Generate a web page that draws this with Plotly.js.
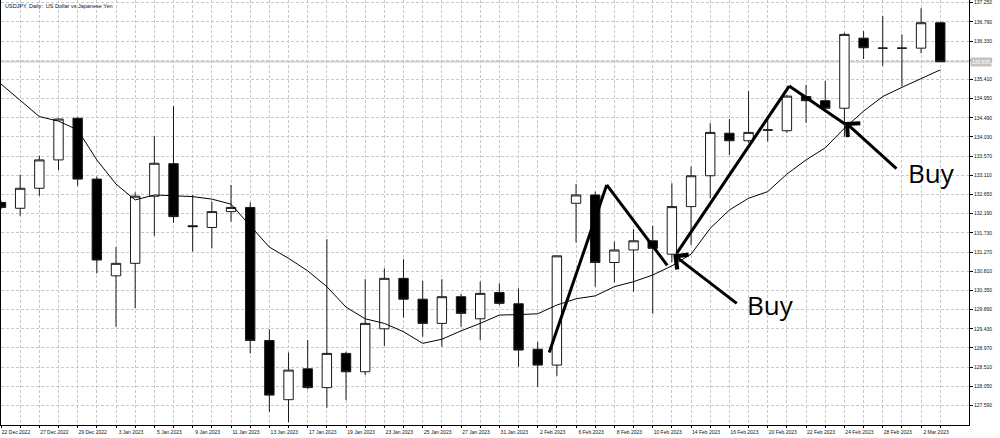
<!DOCTYPE html>
<html>
<head>
<meta charset="utf-8">
<script src="https://cdn.plot.ly/plotly-3.0.1.min.js"></script>
<style>html,body{margin:0;padding:0;background:#fff;}#chart{width:1000px;height:438px;}</style>
</head>
<body>
<div id="chart"></div>
<script>
// ---- data ----
const dates = ['22 Dec 2022','23 Dec 2022','27 Dec 2022','28 Dec 2022','29 Dec 2022','30 Dec 2022',
  '3 Jan 2023','4 Jan 2023','5 Jan 2023','6 Jan 2023','9 Jan 2023','10 Jan 2023','11 Jan 2023','12 Jan 2023','13 Jan 2023',
  '16 Jan 2023','17 Jan 2023','18 Jan 2023','19 Jan 2023','20 Jan 2023','23 Jan 2023','24 Jan 2023','25 Jan 2023','26 Jan 2023','27 Jan 2023',
  '30 Jan 2023','31 Jan 2023','1 Feb 2023','2 Feb 2023','3 Feb 2023','6 Feb 2023','7 Feb 2023','8 Feb 2023','9 Feb 2023','10 Feb 2023',
  '13 Feb 2023','14 Feb 2023','15 Feb 2023','16 Feb 2023','17 Feb 2023','20 Feb 2023','21 Feb 2023','22 Feb 2023','23 Feb 2023','24 Feb 2023',
  '27 Feb 2023','28 Feb 2023','1 Mar 2023','2 Mar 2023','3 Mar 2023'];

const openP  = [132.46,132.32,132.80,133.48,134.48,133.02,130.70,131.00,132.61,133.39,131.90,131.86,132.24,132.34,129.15,127.73,128.47,128.02,128.84,128.40,129.43,130.64,130.14,129.56,130.20,129.67,130.30,130.03,128.94,128.56,132.44,132.64,131.02,131.32,131.54,131.22,132.36,133.10,134.12,133.94,134.19,134.18,135.00,134.90,134.72,136.40,136.16,136.16,136.16,136.77];
const highP  = [132.50,133.13,133.58,134.48,134.50,133.08,131.39,132.70,134.05,134.77,132.64,132.48,132.88,132.46,129.42,128.86,129.16,131.58,128.88,130.62,130.88,131.10,130.58,130.62,130.27,130.56,130.52,130.40,129.12,131.19,132.90,132.72,131.52,131.82,131.90,132.92,133.32,134.36,134.46,135.13,134.45,135.04,135.28,135.37,136.53,136.57,136.93,136.49,137.12,136.79];
const lowP   = [132.30,132.14,132.62,133.24,132.86,130.76,129.48,129.92,131.66,131.97,131.28,131.36,132.00,128.84,127.44,127.19,127.98,127.54,127.72,128.32,129.02,129.70,129.24,129.00,129.48,129.16,130.00,128.52,128.04,128.30,131.50,130.44,130.54,130.32,129.79,131.03,131.44,132.56,133.60,133.89,133.92,134.13,134.37,134.64,134.04,135.90,135.74,135.25,136.04,135.835];
const closeP = [132.34,132.80,133.48,134.46,133.02,131.08,131.00,132.61,133.40,132.12,131.88,132.24,132.34,129.15,127.84,128.44,128.02,128.84,128.40,129.56,130.64,130.14,129.56,130.20,129.80,130.28,130.04,128.92,128.56,131.18,132.64,131.02,131.32,131.54,131.36,132.36,133.10,134.14,133.94,134.14,134.20,135.01,134.90,134.72,136.49,136.17,136.16,136.16,136.77,135.835];
const movingAvg = [135.30,134.92,134.52,134.41,134.20,133.48,132.90,132.52,132.64,132.62,132.60,132.54,132.42,131.90,131.39,131.12,130.82,130.44,129.95,129.67,129.56,129.36,129.08,129.18,129.38,129.56,129.76,129.77,129.79,130.00,130.15,130.22,130.44,130.56,130.72,130.94,131.22,131.84,132.28,132.56,132.72,133.14,133.48,133.77,134.24,134.65,135.00,135.22,135.44,135.64];

const yTickVals = [137.25,136.79,136.33,135.87,135.41,134.95,134.49,134.03,133.57,133.11,132.65,132.19,131.73,131.27,130.81,130.35,129.89,129.43,128.97,128.51,128.05,127.59];
const xTickText = dates.map((d, i) => (i % 2 === 0 ? d : ''));

// hand-drawn zigzags (bar index, price)
const zig1X = [28.6, 31.6, 34.76];
const zig1Y = [128.86, 132.88, 130.95];
const zig2X = [35.25, 41.12, 44.03];
const zig2Y = [131.24, 135.25, 134.34];
// "Buy" arrow tips (bar index, price)
const buyX = [35.07, 44.03];
const buyY = [131.21, 134.39];
const buyLabelX = [38.81, 47.19];
const buyLabelY = [130.00, 133.16];

const titleText = 'USDJPY, Daily:  US Dollar vs Japanese Yen';

// ---- drawing ----
const candles = {
  type: 'candlestick', x: dates, open: openP, high: highP, low: lowP, close: closeP,
  increasing: {line: {color: '#1a1a1a', width: 1}, fillcolor: '#ffffff'},
  decreasing: {line: {color: '#1a1a1a', width: 1}, fillcolor: '#000000'},
  whiskerwidth: 0, hoverinfo: 'skip', showlegend: false
};
const ma = {
  type: 'scatter', mode: 'lines', x: dates, y: movingAvg,
  line: {color: '#000', width: 1}, hoverinfo: 'skip', showlegend: false
};

const shapes = [];
shapes.push({type: 'line', xref: 'paper', x0: 0, x1: 1, yref: 'y', y0: closeP[closeP.length-1], y1: closeP[closeP.length-1],
  line: {color: '#cfcfcf', width: 1.5}, layer: 'below'});
[[zig1X, zig1Y], [zig2X, zig2Y]].forEach(([xs, ys]) => {
  for (let i = 0; i < xs.length - 1; i++) {
    shapes.push({type: 'line', xref: 'x', yref: 'y', x0: xs[i], y0: ys[i], x1: xs[i+1], y1: ys[i+1],
      line: {color: '#000', width: 3}});
  }
});

const ann = [];
ann.push({xref: 'paper', yref: 'paper', x: 0, y: 1, xanchor: 'left', yanchor: 'top', xshift: 2, yshift: -1,
  text: titleText, showarrow: false, font: {family: 'Liberation Sans, Arial, sans-serif', size: 5.5, color: '#111'}});
const arrowOffsets = [[65, 50], [53, 48]];
buyX.forEach((bx, i) => {
  ann.push({xref: 'x', yref: 'y', x: bx, y: buyY[i], ax: arrowOffsets[i][0], ay: arrowOffsets[i][1],
    text: '', showarrow: true, arrowhead: 4, arrowsize: 1.2, arrowwidth: 3, arrowcolor: '#000', standoff: 0, startstandoff: 0});
  ann.push({xref: 'x', yref: 'y', x: buyLabelX[i], y: buyLabelY[i], xanchor: 'left', yanchor: 'middle',
    text: 'Buy', showarrow: false, font: {family: 'Open Sans, sans-serif', size: 26, color: '#000'}});
});
ann.push({xref: 'paper', yref: 'y', x: 1, y: closeP[closeP.length-1], xanchor: 'left', yanchor: 'middle', xshift: 1,
  text: closeP[closeP.length-1].toFixed(3), showarrow: false, bgcolor: '#c4c4c4', borderpad: 1,
  font: {family: 'Liberation Sans, Arial, sans-serif', size: 5, color: '#ffffff'}});

const gridStyle = {gridcolor: '#c8c8c8', griddash: '3px,2px', gridwidth: 1};

const layout = {
  width: 1000, height: 438,
  margin: {l: 1, r: 31, t: 0, b: 13, pad: 0},
  paper_bgcolor: '#ffffff', plot_bgcolor: '#ffffff',
  showlegend: false,
  xaxis: Object.assign({
    type: 'category', range: [0, 50.5], rangeslider: {visible: false},
    tickmode: 'array', tickvals: dates, ticktext: xTickText, tickangle: 0,
    ticks: 'outside', ticklen: 2, tickcolor: '#000', ticklabelshift: 15, ticklabeloverflow: 'allow',
    showline: true, linecolor: '#000', linewidth: 1, mirror: true, zeroline: false, showgrid: true,
    tickfont: {family: 'Liberation Sans, Arial, sans-serif', size: 5, color: '#111'}
  }, gridStyle),
  yaxis: Object.assign({
    side: 'right', range: [127.123, 137.315], tickmode: 'array', tickvals: yTickVals,
    ticktext: yTickVals.map(v => v.toFixed(3)), ticklabeloverflow: 'allow',
    ticks: 'outside', ticklen: 3, tickcolor: '#000',
    showline: true, linecolor: '#000', linewidth: 1, mirror: true, zeroline: false, showgrid: true,
    tickfont: {family: 'Liberation Sans, Arial, sans-serif', size: 5, color: '#111'}
  }, gridStyle),
  shapes: shapes,
  annotations: ann
};

Plotly.newPlot('chart', [candles, ma], layout, {displayModeBar: false, staticPlot: true});
</script>
</body>
</html>
